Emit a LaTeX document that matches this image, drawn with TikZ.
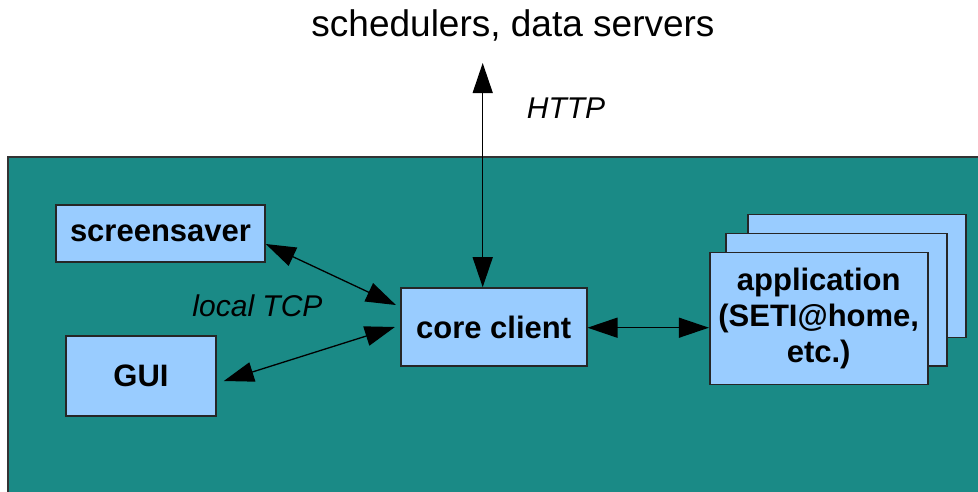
\documentclass[tikz,border=0pt]{standalone}
\usepackage{fontspec}
\setmainfont{Liberation Sans}
\usetikzlibrary{arrows.meta}

\definecolor{hostteal}{RGB}{26,138,134}
\definecolor{boxblue}{RGB}{153,204,255}

\begin{document}
\begin{tikzpicture}[x=1pt,y=-1pt,
  box/.style={draw=black!85, line width=1.6pt, fill=boxblue, inner sep=0pt,
    align=center, font=\fontsize{31}{36}\selectfont\bfseries},
  link/.style={line width=1.3pt, {Triangle[length=30pt,width=20pt]}-{Triangle[length=30pt,width=20pt]}},
  lbl/.style={font=\fontsize{30}{34}\selectfont\itshape, inner sep=0pt}]
  \useasboundingbox (0,0) rectangle (978,491);

  % host machine
  \path[fill=hostteal, draw=black!80, line width=1.5pt] (8,157) rectangle (990,500);

  % title
  \node[inner sep=0pt, font=\fontsize{37}{40}\selectfont] (servers) at (513,25) {schedulers, data servers};
  \coordinate (net) at (482.7,63);

  % processes
  \node[box, minimum width=209pt, minimum height=57pt] (scr) at (160.5,233.5) {screensaver};
  \node[box, minimum width=150pt, minimum height=80pt] (gui) at (141,376) {GUI};
  \node[box, minimum width=186pt, minimum height=78pt] (core) at (493.7,327) {core client};

  % stacked application boxes
  \node[box, minimum width=218pt, minimum height=123pt] (app3) at (856.7,275.8) {};
  \node[box, minimum width=221pt, minimum height=132.7pt] (app2) at (836.2,299.7) {};
  \node[box, minimum width=218pt, minimum height=132pt] (app) at (818.7,318.3)
    {application\\(SETI@home,\\etc.)};

  % connections
  \draw[link] (net) -- (net |- core.north);
  \draw[link] ([yshift=22pt,xshift=-4pt]core.west) -- ([yshift=-10.5pt]scr.east);
  \draw[link] ([xshift=-5pt]core.west) -- ([shift={(7pt,-5pt)}]gui.east);
  \draw[link] ([yshift=-0.7pt]core.east) -- ([yshift=-0.7pt]core.east -| app.west);

  % labels
  \node[lbl] (http) at (566,108) {HTTP};
  \node[lbl] (tcp) at (257.5,306) {local TCP};
\end{tikzpicture}
\end{document}
